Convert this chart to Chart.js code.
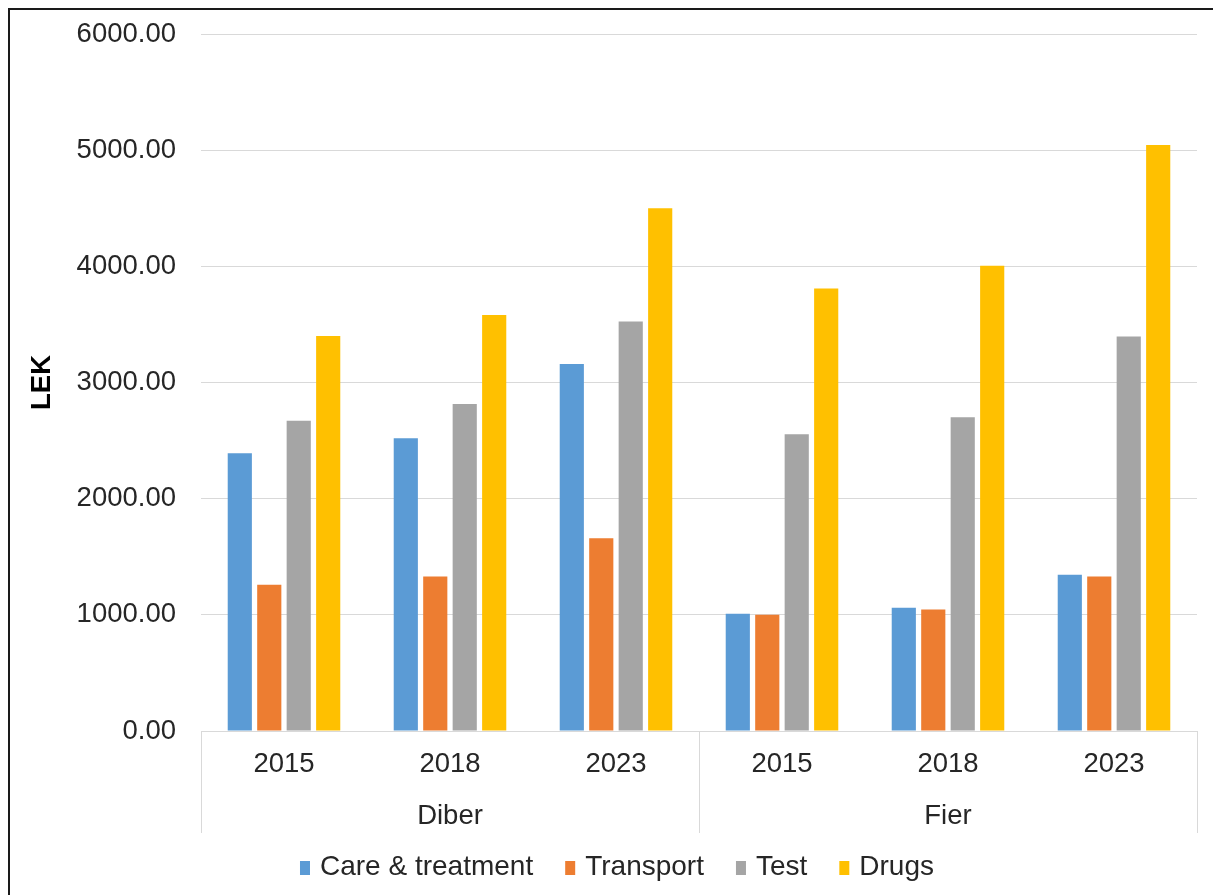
<!DOCTYPE html>
<html>
<head>
<meta charset="utf-8">
<script src="https://cdn.jsdelivr.net/npm/chart.js@4.4.1/dist/chart.umd.min.js"></script>
<style>
  html, body { margin: 0; padding: 0; background: #ffffff; overflow: hidden; }
  #wrap { width: 1213px; height: 895px; }
</style>
</head>
<body>
<div id="wrap"><canvas id="chart" width="1213" height="895"></canvas></div>
<script>
// Years on the category axis, grouped by region
const years = ['2015', '2018', '2023', '2015', '2018', '2023'];
const regions = ['Diber', 'Fier'];
const yearsPerRegion = 3;

// Cost per patient (LEK) by component
const careTreatment = [2390, 2520, 3160, 1010, 1060, 1345];
const transport     = [1260, 1330, 1660, 1000, 1045, 1330];
const test          = [2670, 2815, 3525, 2555, 2700, 3395];
const drugs         = [3400, 3580, 4500, 3810, 4005, 5045];

const seriesNames  = ['Care & treatment', 'Transport', 'Test', 'Drugs'];
const seriesValues = [careTreatment, transport, test, drugs];
const seriesColors = ['#5B9BD5', '#ED7D31', '#A5A5A5', '#FFC000'];

const yTicks = [0, 1000, 2000, 3000, 4000, 5000, 6000];
const yTitle = 'LEK';

const FONT = '"Liberation Sans", Arial, sans-serif';
const TEXT = '#262626';
const GRID = '#D9D9D9';

// Frame, two-level category axis and legend
const decorations = {
  id: 'decorations',
  afterDraw(chart) {
    const ctx = chart.ctx;
    const area = chart.chartArea;
    const x = chart.scales.x;
    ctx.save();

    // outer frame (left and top edges)
    ctx.strokeStyle = '#1a1a1a';
    ctx.lineWidth = 2;
    ctx.beginPath();
    ctx.moveTo(9, 900);
    ctx.lineTo(9, 9);
    ctx.lineTo(1220, 9);
    ctx.stroke();

    // region separators below the axis
    const sepBottom = area.bottom + 102;
    const bounds = [area.left];
    for (let g = 1; g < regions.length; g++) {
      const i = g * yearsPerRegion;
      bounds.push((x.getPixelForValue(i - 1) + x.getPixelForValue(i)) / 2);
    }
    bounds.push(area.right);
    ctx.strokeStyle = GRID;
    ctx.lineWidth = 1;
    bounds.forEach(b => {
      const px = Math.round(b) + 0.5;
      ctx.beginPath();
      ctx.moveTo(px, area.bottom);
      ctx.lineTo(px, sepBottom);
      ctx.stroke();
    });

    // region labels
    ctx.fillStyle = TEXT;
    ctx.font = '27.5px ' + FONT;
    ctx.textAlign = 'center';
    ctx.textBaseline = 'middle';
    regions.forEach((r, g) => {
      ctx.fillText(r, (bounds[g] + bounds[g + 1]) / 2, area.bottom + 85);
    });

    // legend
    ctx.font = '28px ' + FONT;
    const boxW = 10, boxH = 14, boxGap = 10, itemGap = 32;
    const widths = seriesNames.map(n => ctx.measureText(n).width);
    let total = 0;
    widths.forEach((w, i) => { total += boxW + boxGap + w + (i < widths.length - 1 ? itemGap : 0); });
    let lx = 617 - total / 2;
    const ly = 867;
    ctx.textAlign = 'left';
    chart.data.datasets.forEach((ds, i) => {
      ctx.fillStyle = ds.backgroundColor;
      ctx.fillRect(lx, ly - boxH / 2 + 1, boxW, boxH);
      lx += boxW + boxGap;
      ctx.fillStyle = TEXT;
      ctx.fillText(ds.label, lx, ly);
      lx += widths[i] + itemGap;
    });

    ctx.restore();
  }
};

new Chart(document.getElementById('chart'), {
  type: 'bar',
  data: {
    labels: years,
    datasets: seriesNames.map((name, i) => ({
      label: name,
      data: seriesValues[i],
      backgroundColor: seriesColors[i],
      borderWidth: 0,
      categoryPercentage: 0.71,
      barPercentage: 0.82
    }))
  },
  options: {
    responsive: false,
    animation: false,
    layout: { padding: { left: 9, top: 34, right: 16, bottom: 0 } },
    plugins: {
      legend: { display: false },
      tooltip: { enabled: false }
    },
    scales: {
      x: {
        grid: { display: false, drawTicks: false },
        border: { display: false },
        ticks: { color: TEXT, font: { family: FONT, size: 27.5 }, padding: 17, maxRotation: 0 },
        afterFit(scale) {
          scale.height = 164;
          scale.paddingLeft = 0;
          scale.paddingRight = 0;
        }
      },
      y: {
        min: 0,
        max: 6000,
        afterBuildTicks(scale) { scale.ticks = yTicks.map(v => ({ value: v })); },
        ticks: {
          color: TEXT,
          font: { family: FONT, size: 27.5 },
          padding: 25,
          callback: v => Number(v).toFixed(2)
        },
        grid: { color: GRID, lineWidth: 1, drawTicks: false },
        border: { display: false },
        title: {
          display: true,
          text: yTitle,
          color: '#000000',
          font: { family: FONT, size: 27.5, weight: 'bold' },
          padding: { top: 17, bottom: 0 }
        },
        afterFit(scale) {
          scale.width = 192;
          scale.paddingTop = 0;
          scale.paddingBottom = 0;
        }
      }
    }
  },
  plugins: [decorations]
});
</script>
</body>
</html>
